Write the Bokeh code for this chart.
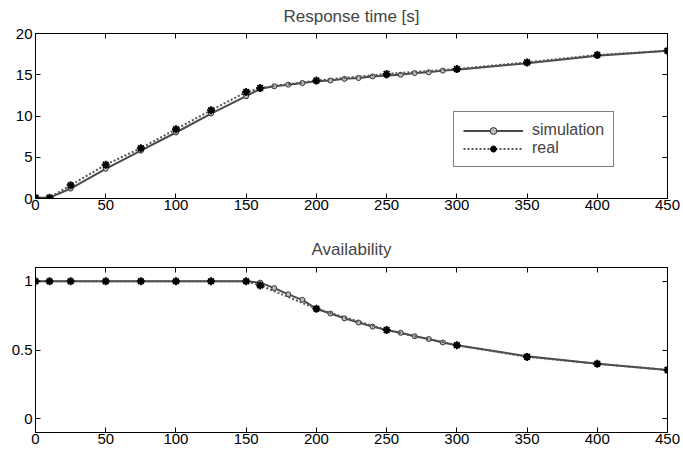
from bokeh.plotting import figure
from bokeh.layouts import column
from bokeh.models import (LinearAxis, FixedTicker, Range1d, Legend, LegendItem,
                          CustomLabelingPolicy)
from bokeh.embed import file_html
from bokeh.resources import INLINE

# ---- data ----
x_ticks = [0, 50, 100, 150, 200, 250, 300, 350, 400, 450]
resp_ticks = [0, 5, 10, 15, 20]
avail_ticks = [0, 0.5, 1]
avail_tick_labels = {0: "0", 0.5: "0.5", 1: "1"}

sim_x = [0, 10, 25, 50, 75, 100, 125, 150, 160, 170, 180, 190, 200, 210, 220, 230,
         240, 250, 260, 270, 280, 290, 300, 350, 400, 450]
sim_resp = [0.1, 0.1, 1.2, 3.6, 5.8, 8.0, 10.3, 12.4, 13.3, 13.6, 13.8, 14.0, 14.2, 14.3,
            14.5, 14.6, 14.8, 14.9, 15.0, 15.2, 15.3, 15.5, 15.6, 16.4, 17.3, 17.9]
sim_avail = [1.0, 1.0, 1.0, 1.0, 1.0, 1.0, 1.0, 1.0, 0.99, 0.95, 0.905, 0.865, 0.80, 0.765,
             0.73, 0.70, 0.67, 0.645, 0.625, 0.60, 0.58, 0.555, 0.535, 0.455, 0.40, 0.355]

real_x = [0, 10, 25, 50, 75, 100, 125, 150, 160, 200, 250, 300, 350, 400, 450]
real_resp = [0.1, 0.1, 1.6, 4.1, 6.1, 8.4, 10.7, 12.9, 13.4, 14.3, 15.1, 15.7, 16.5, 17.4, 17.9]
real_avail = [1.0, 1.0, 1.0, 1.0, 1.0, 1.0, 1.0, 1.0, 0.97, 0.80, 0.645, 0.535, 0.45, 0.40, 0.355]

FONT = "Liberation Sans"
LINE_COL = "#4a4a4a"
NO_LABELS = "return new Set()"


def style(p, yticks, overrides=None, title_standoff=10):
    p.xaxis.ticker = FixedTicker(ticks=x_ticks)
    p.yaxis.ticker = FixedTicker(ticks=yticks)
    if overrides:
        p.yaxis.major_label_overrides = overrides
    for ax in p.xaxis + p.yaxis:
        ax.major_tick_in = 5
        ax.major_tick_out = 0
        ax.minor_tick_in = 0
        ax.minor_tick_out = 0
        ax.axis_line_color = "black"
        ax.major_tick_line_color = "black"
        ax.major_label_text_font = FONT
        ax.major_label_text_font_size = "15px"
        ax.major_label_text_color = "black"
    p.xaxis.major_label_standoff = 1
    p.yaxis.major_label_standoff = 3
    # top and right tick-only axes (box style)
    top = LinearAxis(ticker=FixedTicker(ticks=x_ticks), major_tick_in=5, major_tick_out=0,
                     minor_tick_in=0, minor_tick_out=0,
                     major_label_policy=CustomLabelingPolicy(code=NO_LABELS),
                     major_label_text_font_size="1px",
                     major_label_standoff=0, axis_line_color="black")
    right = LinearAxis(ticker=FixedTicker(ticks=yticks), major_tick_in=5, major_tick_out=0,
                       minor_tick_in=0, minor_tick_out=0,
                       major_label_policy=CustomLabelingPolicy(code=NO_LABELS),
                       major_label_text_font_size="1px",
                       major_label_standoff=0, axis_line_color="black")
    p.add_layout(top, "above")
    p.add_layout(right, "right")
    p.xgrid.visible = False
    p.ygrid.visible = False
    p.outline_line_color = "black"
    p.title.text_font = FONT
    p.title.text_font_size = "17px"
    p.title.text_font_style = "normal"
    p.title.align = "center"
    p.title.standoff = title_standoff
    p.background_fill_color = "white"
    p.border_fill_color = "white"


p1 = figure(width=680, height=224, output_backend="svg", toolbar_location=None,
            title="Response time [s]", x_range=Range1d(0, 450), y_range=Range1d(0, 20),
            min_border_left=35, min_border_right=13, min_border_top=33, min_border_bottom=26)
style(p1, resp_ticks, title_standoff=8)
l_sim = p1.line(sim_x, sim_resp, line_color=LINE_COL, line_width=2)
m_sim = p1.scatter(sim_x, sim_resp, marker="circle", size=5, line_color="#333333",
                   fill_color="#bbbbbb", line_width=1)
l_real = p1.line(real_x, real_resp, line_color="#555555", line_width=2, line_dash="2 2")
m_real = p1.scatter(real_x, real_resp, marker="asterisk", size=8, line_color="black",
                    line_width=2)
legend = Legend(items=[LegendItem(label="simulation", renderers=[l_sim, m_sim]),
                       LegendItem(label="real", renderers=[l_real, m_real])],
                location=(418, 31), border_line_color="black", border_line_width=1,
                label_text_font=FONT, label_text_font_size="16px", glyph_width=60,
                glyph_height=17, padding=9, spacing=0, margin=0, label_standoff=9,
                label_height=17, background_fill_alpha=1.0)
p1.add_layout(legend, "center")

p2 = figure(width=680, height=230, output_backend="svg", toolbar_location=None,
            title="Availability", x_range=Range1d(0, 450), y_range=Range1d(-0.1, 1.1),
            min_border_left=35, min_border_right=13, min_border_top=43, min_border_bottom=22)
style(p2, avail_ticks, avail_tick_labels, title_standoff=10)
p2.line(sim_x, sim_avail, line_color=LINE_COL, line_width=2)
p2.scatter(sim_x, sim_avail, marker="circle", size=5, line_color="#333333",
           fill_color="#bbbbbb", line_width=1)
p2.line(real_x, real_avail, line_color="#555555", line_width=2, line_dash="2 2")
p2.scatter(real_x, real_avail, marker="asterisk", size=8, line_color="black", line_width=2)

layout = column(p1, p2, spacing=0)
open("out.html", "w").write(file_html(layout, INLINE))
